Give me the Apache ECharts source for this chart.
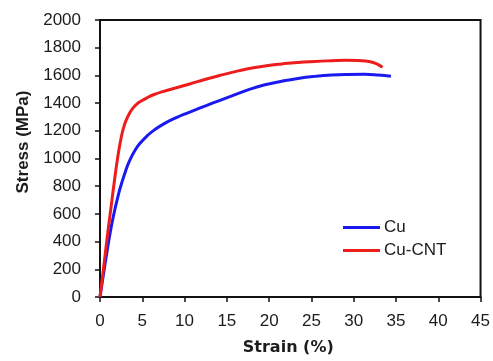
<!DOCTYPE html>
<html>
<head>
<meta charset="utf-8">
<script src="https://cdn.jsdelivr.net/npm/echarts@6/dist/echarts.min.js"></script>
<style>
  html, body { margin: 0; padding: 0; background: #fff; }
  #chart { width: 493px; height: 361px; }
</style>
</head>
<body>
<div id="chart"></div>
<script>
// Tensile stress–strain curves: pure Cu vs Cu-CNT composite
const seriesNames = ['Cu', 'Cu-CNT'];

// strain (%) and stress (MPa) sampled along each curve
const cuStrain = [0, 0.6, 1.25, 1.75, 2.2, 2.5, 3.0, 3.5, 4.2, 4.85, 5.6, 6.4, 7.7, 9.1, 10.4, 11.7, 13.0, 14.5, 15.6, 17.5, 19.5, 21.5, 23.4, 25.4, 27.4, 29.3, 31.3, 32.9, 34.4];
const cuStress = [0, 240, 480, 630, 745, 810, 905, 985, 1065, 1118, 1165, 1205, 1255, 1297, 1330, 1362, 1393, 1427, 1452, 1495, 1532, 1558, 1578, 1593, 1603, 1607, 1608, 1603, 1594];

const cntStrain = [0, 0.5, 0.94, 1.33, 1.72, 2.11, 2.5, 2.8, 3.08, 3.5, 3.87, 4.35, 4.84, 5.6, 6.4, 7.4, 8.4, 10.7, 12.5, 14.3, 15.6, 17.5, 19.5, 21.5, 23.4, 25.4, 27.4, 29.0, 30.5, 31.5, 32.3, 32.9, 33.4];
const cntStress = [0, 250, 475, 660, 845, 1015, 1150, 1225, 1275, 1328, 1362, 1393, 1414, 1440, 1462, 1483, 1500, 1540, 1572, 1602, 1622, 1648, 1668, 1683, 1694, 1701, 1706, 1709, 1708, 1703, 1693, 1678, 1658];

// axis ticks
const xTicks = [0, 5, 10, 15, 20, 25, 30, 35, 40, 45];
const yTicks = [0, 200, 400, 600, 800, 1000, 1200, 1400, 1600, 1800, 2000];

const pairs = (xs, ys) => xs.map((x, i) => [x, ys[i]]);

const chart = echarts.init(document.getElementById('chart'), null, { renderer: 'canvas' });

const labelFont = "'Liberation Sans', Arial, sans-serif";
const titleFont = "'DejaVu Sans', Verdana, sans-serif";
const textColor = '#1c1c1c';

chart.setOption({
  animation: false,
  backgroundColor: '#fff',
  grid: {
    left: 100, right: 9, top: 20, bottom: 62,
    show: true, borderColor: '#111', borderWidth: 2, backgroundColor: 'transparent'
  },
  legend: {
    orient: 'vertical',
    left: 343,
    top: 219,
    padding: 0,
    icon: 'rect',
    itemWidth: 37,
    itemHeight: 3,
    itemGap: 6,
    textStyle: { fontFamily: labelFont, fontSize: 17, color: textColor, padding: [0, 0, 0, -1] },
    data: seriesNames
  },
  xAxis: {
    type: 'value',
    min: xTicks[0],
    max: xTicks[xTicks.length - 1],
    interval: xTicks[1] - xTicks[0],
    name: 'Strain (%)',
    nameLocation: 'middle',
    nameGap: 43,
    nameTextStyle: { fontFamily: titleFont, fontWeight: 'bold', fontSize: 16, color: textColor, padding: [0, 4, 0, 0] },
    axisLine: { lineStyle: { color: '#111', width: 2 } },
    axisTick: { show: true, inside: false, length: 5, lineStyle: { color: '#111', width: 1.5 } },
    axisLabel: { fontFamily: labelFont, fontSize: 17, color: textColor, margin: 16, formatter: v => String(v) },
    splitLine: { show: false }
  },
  yAxis: {
    type: 'value',
    min: yTicks[0],
    max: yTicks[yTicks.length - 1],
    interval: yTicks[1] - yTicks[0],
    name: 'Stress (MPa)',
    nameLocation: 'middle',
    nameRotate: 90,
    nameGap: 68,
    nameTextStyle: { fontFamily: labelFont, fontWeight: 'bold', fontSize: 17, color: textColor, padding: [0, 0, 0, 33] },
    axisLine: { show: true, lineStyle: { color: '#111', width: 2 } },
    axisTick: { show: true, inside: false, length: 5, lineStyle: { color: '#111', width: 1.5 } },
    axisLabel: { fontFamily: labelFont, fontSize: 17, color: textColor, margin: 19, formatter: v => String(v) },
    splitLine: { show: false }
  },
  series: [
    {
      name: seriesNames[0],
      type: 'line',
      data: pairs(cuStrain, cuStress),
      smooth: 0.5,
      showSymbol: false,
      color: '#1a1af0',
      lineStyle: { width: 3, color: '#1a1af0' },
      z: 3
    },
    {
      name: seriesNames[1],
      type: 'line',
      data: pairs(cntStrain, cntStress),
      smooth: 0.5,
      showSymbol: false,
      color: '#ee1d1d',
      lineStyle: { width: 3, color: '#ee1d1d' },
      z: 4
    }
  ]
});
</script>
</body>
</html>
